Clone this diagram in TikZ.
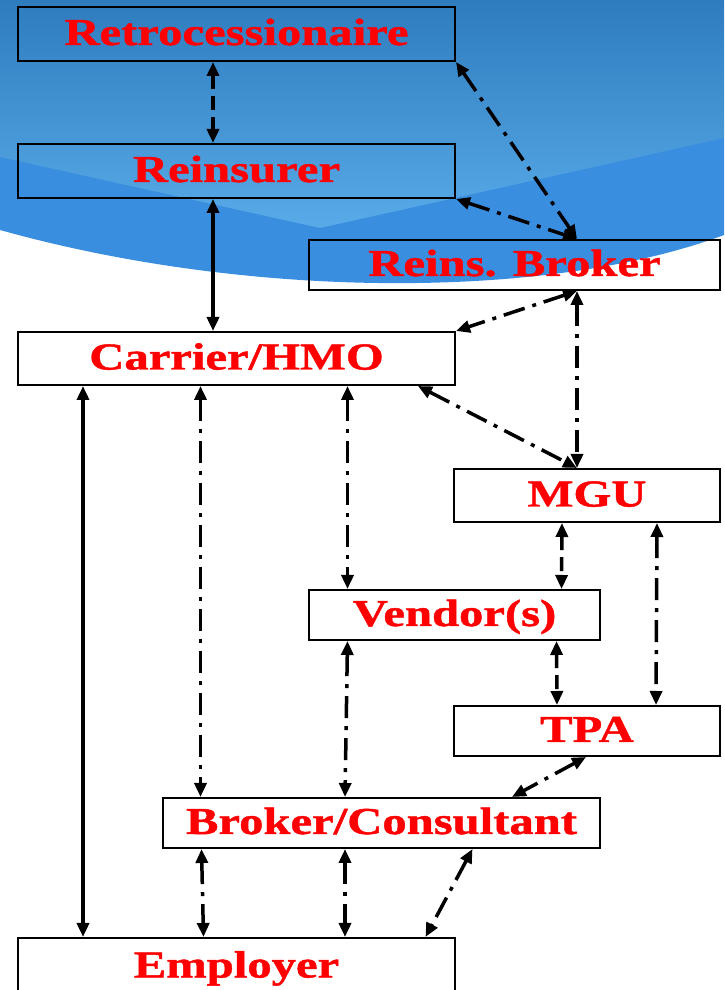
\documentclass[tikz,border=0pt]{standalone}
\usepackage{fontspec}
\setmainfont{Liberation Serif}[FakeStretch=1.28, BoldFeatures={FakeBold=1.2}]
\usepackage{xcolor}
\usepackage{tikz}
\usetikzlibrary{arrows.meta,positioning,calc}

\definecolor{skytop}{RGB}{46,124,190}
\definecolor{skylow}{RGB}{88,170,232}
\definecolor{skyband}{RGB}{58,142,224}

\begin{document}
\begin{tikzpicture}[x=1pt, y=1pt,
    box/.style={draw, line width=2pt, inner sep=0pt, minimum height=50pt,
        text height=26pt, text depth=4pt, text=red,
        font=\fontsize{38}{40}\selectfont\bfseries},
    >={Triangle[length=14pt,width=12pt]},
    link/.style={line width=3.5pt, <->},
    dashlink/.style={link, dash pattern=on 14pt off 7pt},
    dotlink/.style={link, dash pattern=on 22pt off 8pt on 4pt off 8pt}]
    \useasboundingbox (0,0) rectangle (724,990);

    % Background
    \fill[white] (0,0) rectangle (724,990);
    \fill[skyband] (0,990) -- (0,760) .. controls (250,690) and (550,690) .. (724,755) -- (724,990) -- cycle;
    \shade[top color=skytop, bottom color=skylow] (0,990) -- (0,833) -- (320,762) -- (724,852) -- (724,990) -- cycle;

    % Boxes
    \node[box, minimum width=437pt, minimum height=54pt] (retro) at (236.5,956) {Retrocessionaire};
    \node[box, minimum width=437pt, minimum height=54pt] (reins) at (236.5,819) {Reinsurer};
    \node[box, minimum width=411pt] (rbroker) at (514.5,725) {Reins. Broker};
    \node[box, minimum width=437pt, minimum height=53pt] (carrier) at (236.5,631.5) {Carrier/HMO};
    \node[box, minimum width=266pt, minimum height=53pt] (mgu) at (587,494.5) {MGU};
    \node[box, minimum width=291pt] (vendor) at (454.5,375) {Vendor(s)};
    \node[box, minimum width=266pt] (tpa) at (587,259) {TPA};
    \node[box, minimum width=437pt] (bcons) at (381.5,167) {Broker/Consultant};
    \node[box, minimum width=437pt, minimum height=57pt] (employer) at (236.5,23.5) {Employer};

    % Reinsurance side
    \draw[dashlink] ([xshift=-23.5pt]retro.south) -- ([xshift=-23.5pt]reins.north);
    \draw[dotlink] (retro.south east) -- ([xshift=62.5pt]rbroker.north);
    \draw[dotlink] (reins.south east) -- ([xshift=62.5pt]rbroker.north);
    \draw[link] ([xshift=-23.5pt]reins.south) -- ([xshift=-23.5pt]carrier.north);
    \draw[dotlink] ([xshift=62.5pt]rbroker.south) -- (carrier.north east);
    \draw[dotlink] ([xshift=62.5pt]rbroker.south) -- ([xshift=-10pt]mgu.north);
    \draw[dotlink] ([xshift=181.5pt]carrier.south) -- ([xshift=-10pt]mgu.north);

    % Carrier down
    \draw[link] ([xshift=-153.5pt]carrier.south) -- ([xshift=-153.5pt]employer.north);
    \draw[dotlink] ([xshift=-36pt]carrier.south) -- ([xshift=-181pt]bcons.north);
    \draw[dotlink] ([xshift=111pt]carrier.south) -- ([xshift=-107pt]vendor.north);

    % MGU, Vendor(s), TPA
    \draw[dashlink] ([xshift=-25pt]mgu.south) -- ([xshift=107pt]vendor.north);
    \draw[dotlink] ([xshift=70pt]mgu.south) -- ([xshift=69pt]tpa.north);
    \draw[dotlink] ([xshift=-107pt]vendor.south) -- ([xshift=-36.5pt]bcons.north);
    \draw[dashlink] ([xshift=102pt]vendor.south) -- ([xshift=-30pt]tpa.north);
    \draw[dotlink] ([xshift=-1pt]tpa.south) -- ([xshift=130.5pt]bcons.north);

    % Broker/Consultant to Employer
    \draw[dotlink] ([xshift=-180pt]bcons.south) -- ([xshift=-33pt]employer.north);
    \draw[dotlink] ([xshift=-36.5pt]bcons.south) -- ([xshift=108.5pt]employer.north);
    \draw[dotlink] ([xshift=91pt]bcons.south) -- ([xshift=189pt]employer.north);
\end{tikzpicture}
\end{document}
